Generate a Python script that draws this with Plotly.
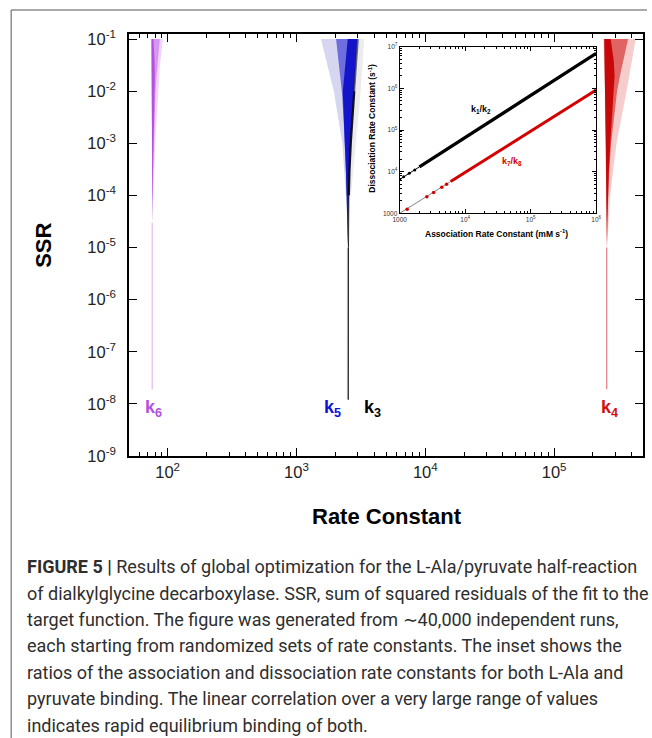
import plotly.graph_objects as go

W, H = 652, 738
L, R, T, B = 129, 4, 34, 282
PW = W - L - R
PH = H - T - B

def px(x):
    return (x - L) / PW

def py(y):
    return (H - B - y) / PH

FONT = "Liberation Sans, Arial, sans-serif"

# ---------------- main axes ----------------
x_major = [1e2, 1e3, 1e4, 1e5]
x_major_text = ["10<sup>2</sup>", "10<sup>3</sup>", "10<sup>4</sup>", "10<sup>5</sup>"]
y_major = [1e-9, 1e-8, 1e-7, 1e-6, 1e-5, 1e-4, 1e-3, 1e-2, 1e-1]
y_major_text = ["10<sup>-9</sup>", "10<sup>-8</sup>", "10<sup>-7</sup>", "10<sup>-6</sup>",
                "10<sup>-5</sup>", "10<sup>-4</sup>", "10<sup>-3</sup>", "10<sup>-2</sup>",
                "10<sup>-1</sup>"]

# ---------------- k6 (purple) ----------------
k6_outer_ssr = [0.1, 0.03, 1e-2, 1e-3, 1e-4]
k6_outer_left = [74.0, 74.5, 75.0, 75.4, 75.8]
k6_outer_right = [92.0, 87.0, 84.0, 80.0, 77.0]
k6_core_ssr = [0.1, 0.04, 0.02, 1e-2, 3e-3, 1e-3, 3e-4, 1e-4, 3e-5]
k6_core_left = [75.0, 75.3, 75.5, 75.6, 75.7, 75.7, 75.8, 75.8, 75.9]
k6_core_right = [87.0, 84.0, 82.0, 80.5, 79.0, 78.0, 77.2, 76.6, 76.2]
k6_dense_right = [77.5, 79.0, 79.5, 79.3, 78.4, 77.7, 77.0, 76.5, 76.2]
k6_line_ssr = [1.9e-8, 3e-5]
k6_line_x = [75.9, 75.9]

# ---------------- k5 (blue) ----------------
k5_outer_ssr = [0.1, 0.03, 1e-2, 1e-3, 1e-4]
k5_outer_left = [1550, 1750, 1950, 2270, 2420]
k5_outer_right = [3000, 2920, 2830, 2660, 2550]
k5_core_ssr = [0.1, 0.04, 0.02, 1e-2, 3e-3, 1e-3, 3e-4, 1e-4, 3e-5, 1e-5]
k5_core_left = [2030, 2120, 2190, 2250, 2320, 2380, 2420, 2450, 2470, 2480]
k5_core_right = [2960, 2900, 2840, 2780, 2690, 2620, 2570, 2540, 2520, 2505]
k5_dense_left = [2500, 2420, 2340, 2290, 2330, 2385, 2420, 2450, 2470, 2480]
k5_line_ssr = [1.2e-8, 1e-5]
k5_line_x = [2490, 2490]
k5_gray_ssr = [0.1, 0.03, 1e-2, 1e-3, 1e-4]
k5_gray_left = [2900, 2850, 2780, 2620, 2540]
k5_gray_right = [3350, 3250, 3150, 2900, 2650]

# ---------------- k3 (black) ----------------
k3_top_ssr = [0.1, 0.03, 1e-2]
k3_top_x = [3000, 2910, 2810]
k3_band_ssr = [1e-2, 3e-3, 1e-3, 3e-4, 1e-4]
k3_band_x = [2810, 2710, 2640, 2580, 2550]
k3_line_ssr = [1e-4, 1e-5, 1.2e-8]
k3_line_x = [2550, 2535, 2530]

# ---------------- k4 (red) ----------------
k4_outer_ssr = [0.1, 0.03, 1e-2, 1e-3, 1e-4, 1e-5]
k4_outer_left = [2.42e5, 2.45e5, 2.47e5, 2.50e5, 2.53e5, 2.55e5]
k4_outer_right = [4.3e5, 3.95e5, 3.65e5, 3.05e5, 2.72e5, 2.58e5]
k4_core_ssr = [0.1, 0.04, 0.02, 1e-2, 3e-3, 1e-3, 3e-4, 1e-4, 3e-5, 1e-5]
k4_core_left = [2.45e5, 2.47e5, 2.48e5, 2.49e5, 2.51e5, 2.52e5, 2.53e5, 2.54e5, 2.55e5, 2.55e5]
k4_core_right = [3.75e5, 3.45e5, 3.25e5, 3.08e5, 2.90e5, 2.77e5, 2.68e5, 2.62e5, 2.59e5, 2.57e5]
k4_dense_right = [2.75e5, 2.9e5, 2.95e5, 2.92e5, 2.82e5, 2.73e5, 2.66e5, 2.61e5, 2.585e5, 2.57e5]
k4_line_ssr = [1.9e-8, 1e-5]
k4_line_x = [2.56e5, 2.56e5]

# ---------------- inset ----------------
inset_x_major = [1e3, 1e4, 1e5, 1e6]
inset_x_text = ["1000", "10<sup>4</sup>", "10<sup>5</sup>", "10<sup>6</sup>"]
inset_y_major = [1e3, 1e4, 1e5, 1e6, 1e7]
inset_y_text = ["1000", "10<sup>4</sup>", "10<sup>5</sup>", "10<sup>6</sup>", "10<sup>7</sup>"]

k12_thin_assoc = [1000, 2000]
k12_thin_dissoc = [6500, 13000]
k12_thick_assoc = [2000, 1e6]
k12_thick_dissoc = [13000, 6.9e6]
k12_dots_assoc = [1000, 1150, 1400, 1700]
k12_dots_dissoc = [6500, 7500, 9100, 11000]

k78_thin_assoc = [1000, 6000]
k78_thin_dissoc = [1000, 5800]
k78_thick_assoc = [6000, 1e6]
k78_thick_dissoc = [5800, 9.1e5]
k78_dots_assoc = [1300, 2600, 3300, 4400, 5200]
k78_dots_dissoc = [1250, 2480, 3150, 4200, 4950]

caption_lines = [
    "<b>FIGURE 5 |</b> Results of global optimization for the L-Ala/pyruvate half-reaction",
    "of dialkylglycine decarboxylase. SSR, sum of squared residuals of the fit to the",
    "target function. The figure was generated from \u223c40,000 independent runs,",
    "each starting from randomized sets of rate constants. The inset shows the",
    "ratios of the association and dissociation rate constants for both L-Ala and",
    "pyruvate binding. The linear correlation over a very large range of values",
    "indicates rapid equilibrium binding of both.",
]

fig = go.Figure()


def band(ssr, left, right, color):
    xs = list(left) + list(right)[::-1] + [left[0]]
    ys = list(ssr) + list(ssr)[::-1] + [ssr[0]]
    fig.add_trace(go.Scatter(x=xs, y=ys, mode="lines", fill="toself",
                             fillcolor=color, line=dict(width=0),
                             hoverinfo="skip", showlegend=False))


def line(x, y, color, width, xa="x", ya="y"):
    fig.add_trace(go.Scatter(x=x, y=y, mode="lines", xaxis=xa, yaxis=ya,
                             line=dict(color=color, width=width),
                             hoverinfo="skip", showlegend=False))


# k6
band(k6_outer_ssr, k6_outer_left, k6_outer_right, "rgba(220,160,242,0.45)")
band(k6_core_ssr, k6_core_left, k6_core_right, "rgba(195,110,232,0.6)")
band(k6_core_ssr, k6_core_left, k6_dense_right, "rgba(178,70,222,0.9)")
line(k6_line_x, k6_line_ssr, "rgba(200,120,235,0.5)", 1.2)

# k5 / k3
band(k5_gray_ssr, k5_gray_left, k5_gray_right, "rgba(150,150,160,0.18)")
band(k5_outer_ssr, k5_outer_left, k5_outer_right, "rgba(120,120,205,0.3)")
band(k5_core_ssr, k5_core_left, k5_core_right, "rgba(40,40,210,0.6)")
band(k5_core_ssr, k5_dense_left, k5_core_right, "rgba(10,10,200,0.9)")
line(k5_line_x, k5_line_ssr, "rgba(100,100,200,0.55)", 1.2)
line(k3_top_x, k3_top_ssr, "rgba(0,0,0,0.55)", 1.8)
line(k3_band_x, k3_band_ssr, "rgba(0,0,0,0.9)", 2.2)
line(k3_line_x, k3_line_ssr, "rgba(0,0,0,0.85)", 1.0)

# k4
band(k4_outer_ssr, k4_outer_left, k4_outer_right, "rgba(222,90,90,0.3)")
band(k4_core_ssr, k4_core_left, k4_core_right, "rgba(210,30,30,0.6)")
band(k4_core_ssr, k4_core_left, k4_dense_right, "rgba(196,0,0,0.92)")
line(k4_line_x, k4_line_ssr, "rgba(210,40,40,0.6)", 1.2)

# inset lines
line(k12_thin_assoc, k12_thin_dissoc, "black", 1, "x2", "y2")
line(k12_thick_assoc, k12_thick_dissoc, "black", 3.2, "x2", "y2")
fig.add_trace(go.Scatter(x=k12_dots_assoc, y=k12_dots_dissoc, mode="markers", xaxis="x2", yaxis="y2",
                         marker=dict(color="black", size=3), hoverinfo="skip", showlegend=False))
line(k78_thin_assoc, k78_thin_dissoc, "rgba(60,60,60,0.8)", 0.8, "x2", "y2")
line(k78_thick_assoc, k78_thick_dissoc, "#d40000", 3.0, "x2", "y2")
fig.add_trace(go.Scatter(x=k78_dots_assoc, y=k78_dots_dissoc, mode="markers", xaxis="x2", yaxis="y2",
                         marker=dict(color="#d40000", size=3.5), hoverinfo="skip", showlegend=False))

x_minor = [m * d for d in [10, 100, 1000, 10000, 100000] for m in range(2, 10)]
inset_minor = [m * d for d in [1000, 10000, 100000] for m in range(2, 10)]
inset_yminor = [m * d for d in [1000, 10000, 100000, 1000000] for m in range(2, 10)]

axis_common = dict(showgrid=False, zeroline=False, showline=True, linecolor="black",
                   mirror="ticks", ticks="inside", tickcolor="black")

fig.update_layout(
    width=W, height=H,
    margin=dict(l=L, r=R, t=T, b=B, pad=0),
    paper_bgcolor="white", plot_bgcolor="white",
    showlegend=False,
    font=dict(family=FONT, color="black"),
    xaxis=dict(type="log", range=[1.700, 5.690], tickmode="array", tickvals=x_major,
               ticktext=x_major_text, ticklen=8, tickwidth=1.3, linewidth=1.5,
               tickfont=dict(size=16.5, color="#222", family=FONT),
               minor=dict(tickvals=x_minor, ticks="inside", ticklen=4.5, tickwidth=1,
                          tickcolor="black", showgrid=False),
               **axis_common),
    yaxis=dict(type="log", range=[-9, -0.904], tickmode="array", tickvals=y_major,
               ticktext=y_major_text, ticklen=8, tickwidth=1.3, linewidth=1.5,
               tickfont=dict(size=16.5, color="#222", family=FONT), ticklabelstandoff=8,
               **axis_common),
    xaxis2=dict(type="log", range=[3, 6], domain=[px(402.3), px(600.7)], anchor="y2",
                tickmode="array", tickvals=inset_x_major, ticktext=inset_x_text,
                ticklen=4, tickwidth=0.8, linewidth=1, tickfont=dict(size=6.5, color="#333", family=FONT),
                minor=dict(tickvals=inset_minor, ticks="inside", ticklen=2.5, tickwidth=0.7,
                           tickcolor="black", showgrid=False),
                **axis_common),
    yaxis2=dict(type="log", range=[3, 7], domain=[py(213.3), py(46.7)], anchor="x2",
                tickmode="array", tickvals=inset_y_major, ticktext=inset_y_text,
                ticklen=4, tickwidth=0.8, linewidth=1, tickfont=dict(size=6.5, color="#333", family=FONT),
                minor=dict(tickvals=inset_yminor, ticks="inside", ticklen=2.5, tickwidth=0.7,
                           tickcolor="black", showgrid=False),
                **axis_common),
)

ann = []
def text(x, y, t, size, color="black", angle=0, xanchor="center", fam=FONT):
    ann.append(dict(xref="paper", yref="paper", x=px(x), y=py(y), text=t, showarrow=False,
                    xanchor=xanchor, yanchor="middle", textangle=angle,
                    font=dict(size=size, color=color, family=fam)))

text(42, 245, "<b>SSR</b>", 22, angle=-90)
text(390, 516, "<b>Rate Constant</b>", 22)
text(154, 408, "<b>k<sub>6</sub></b>", 18, color="#b44fe0")
text(334, 408, "<b>k<sub>5</sub></b>", 18, color="#1212d8")
text(375, 408, "<b>k<sub>3</sub></b>", 18, color="black")
text(614, 408, "<b>k<sub>4</sub></b>", 18, color="#d01010")

text(484, 110, "<b>k<sub>1</sub>/k<sub>2</sub></b>", 9, color="black")
text(516, 161, "<b>k<sub>7</sub>/k<sub>8</sub></b>", 9, color="#d40000")
text(500, 233, "<b>Association Rate Constant (mM s<sup>-1</sup>)</b>", 8.5)
text(375, 128, "<b>Dissociation Rate Constant (s<sup>-1</sup>)</b>", 8.5, angle=-90)

cap_y = [566, 593, 619, 645, 672, 698, 725]
for yy, t in zip(cap_y, caption_lines):
    text(24, yy, t, 18, color="#2e2e2e", xanchor="left", fam="Roboto, Liberation Sans, sans-serif")

fig.update_layout(annotations=ann)

fig.add_shape(type="line", xref="paper", yref="paper", x0=px(10), x1=px(652), y0=py(10), y1=py(10),
              line=dict(color="#555", width=1))
fig.add_shape(type="line", xref="paper", yref="paper", x0=px(10), x1=px(10), y0=py(10), y1=py(740),
              line=dict(color="#555", width=1))

fig.write_html("out.html")
